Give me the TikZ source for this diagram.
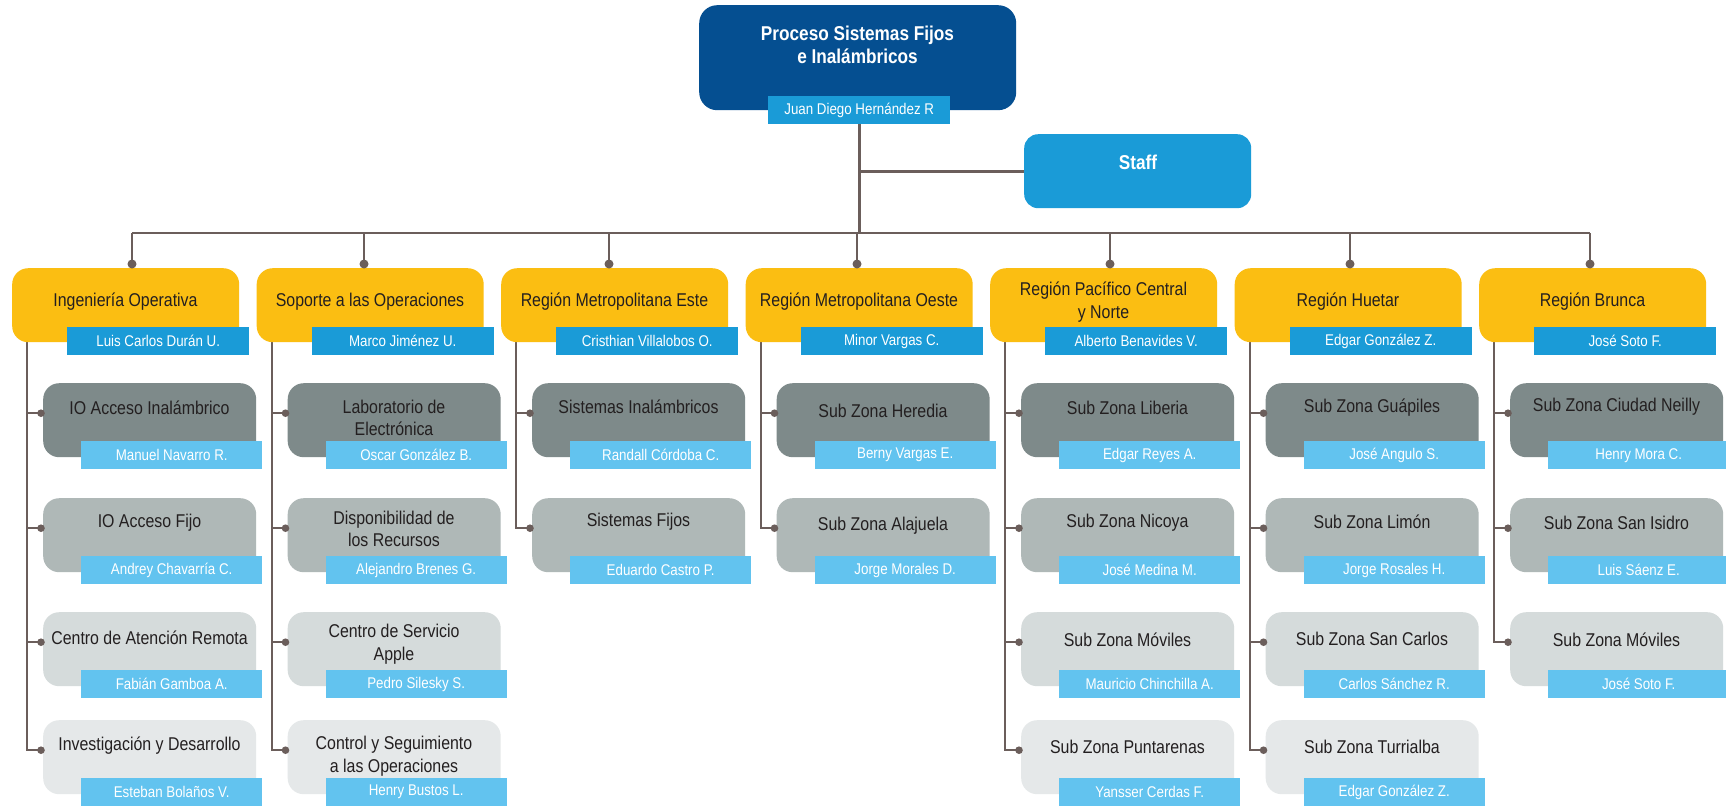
\documentclass[tikz,border=0pt]{standalone}
\usepackage{fontspec}
\setmainfont{Liberation Sans}[FakeStretch=0.86]
\usetikzlibrary{backgrounds,calc}
\pgfdeclarelayer{back}
\pgfsetlayers{back,background,main}
\definecolor{topblue}{HTML}{054F91}
\definecolor{midblue}{HTML}{1A9BD7}
\definecolor{lightblue}{HTML}{62C3EF}
\definecolor{yel}{HTML}{FBBE12}
\definecolor{g1}{HTML}{7E8A8A}
\definecolor{g2}{HTML}{AFB8B7}
\definecolor{g3}{HTML}{D5DBDB}
\definecolor{g4}{HTML}{E5E8E9}
\definecolor{linec}{HTML}{6B5E5B}
\definecolor{txt}{HTML}{231F20}
\newcommand\region[4]{%
 \pgfmathsetmacro\L{12+244.5*#1}
 \node[regbox] (r#1) at (\L,268) {};
 \node[title] (r#1t) at (\L+113.5,302) {#2};
 \node[regstrip] (r#1n) at (\L+55,327) {#3};
 \coordinate (d#1) at (#4,233);
 \draw[main] (d#1) -- ($(d#1 |- r#1.north)+(0,-4)$);
 \fill[linec] ($(d#1 |- r#1.north)+(0,-4)$) circle (4.5pt);
}
\newcommand\sub[5]{%
 \pgfmathsetmacro\L{12+244.5*#1}
 \pgfmathsetmacro\T{#2==1 ? 383 : (#2==2 ? 498 : (#2==3 ? 612 : 720))}
 \node[subbox, fill=g#2] (s#1-#2) at (\L+31,\T) {};
 \node[title] (s#1-#2t) at (\L+137.5,\T+#5) {#3};
 \node[substrip] (s#1-#2n) at (\L+69,\T+58) {#4};
 \begin{pgfonlayer}{background}
 \draw[tree] ([xshift=15pt]r#1.south west) |- ([yshift=7pt]s#1-#2.west);
 \end{pgfonlayer}
 \fill[linec] ([xshift=-2pt,yshift=7pt]s#1-#2.west) circle (3.8pt);
}
\begin{document}
\begin{tikzpicture}[x=1pt,y=-1pt,
 box/.style={draw=none, rounded corners=16pt, minimum width=227pt, minimum height=74pt, inner sep=0pt, anchor=north west},
 regbox/.style={box, fill=yel},
 subbox/.style={box, minimum width=213pt},
 strip/.style={anchor=north west, inner sep=0pt, minimum height=28pt, text=white, font=\fontsize{15.5}{18}\selectfont},
 regstrip/.style={strip, fill=midblue, minimum width=182pt},
 substrip/.style={strip, fill=lightblue, minimum width=181pt},
 title/.style={text=txt, align=center, font=\fontsize{18.5}{22.5}\selectfont, inner sep=0pt},
 main/.style={draw=linec, line width=2.6pt},
 tree/.style={draw=linec, line width=2pt}]
\useasboundingbox (0,0) rectangle (1726,809);
\begin{pgfonlayer}{back}
\fill[white] (0,0) rectangle (1726,809);
\end{pgfonlayer}

% top
\node[box, fill=topblue, minimum width=317pt, minimum height=105pt, rounded corners=18pt] (top) at (699,5) {};
\node[text=white, font=\bfseries\fontsize{20}{23}\selectfont, align=center, inner sep=0pt] (topt) at (857.5,44.5) {Proceso Sistemas Fijos\\e Inalámbricos};
\node[strip, fill=midblue, minimum width=182pt] (jd) at (768,96) {Juan Diego Hernández R};
\node[box, fill=midblue, minimum width=227pt, minimum height=74pt, rounded corners=14pt] (staff) at (1024,134) {};
\node[text=white, font=\bfseries\fontsize{20}{23}\selectfont, inner sep=0pt] (stafft) at (1138,162) {Staff};

% regions
\region{0}{Ingeniería Operativa}{Luis Carlos Durán U.}{132}
\region{1}{Soporte a las Operaciones}{Marco Jiménez U.}{364}
\region{2}{Región Metropolitana Este}{Cristhian Villalobos O.}{609}
\region{3}{Región Metropolitana Oeste}{Minor Vargas C.}{857}
\region{4}{Región Pacífico Central\\y Norte}{Alberto Benavides V.}{1110}
\region{5}{Región Huetar}{Edgar González Z.}{1350}
\region{6}{Región Brunca}{José Soto F.}{1590}

\begin{pgfonlayer}{background}
\draw[main] (d0) -- (d6);
\draw[main] (jd.south) -- (jd.south |- d3);
\draw[main] (staff.west) -- (staff.west -| jd.south);
\end{pgfonlayer}

% column 0
\sub{0}{1}{IO Acceso Inalámbrico}{Manuel Navarro R.}{25}
\sub{0}{2}{IO Acceso Fijo}{Andrey Chavarría C.}{25}
\sub{0}{3}{Centro de Atención Remota}{Fabián Gamboa A.}{26}
\sub{0}{4}{Investigación y Desarrollo}{Esteban Bolaños V.}{26}
% column 1
\sub{1}{1}{Laboratorio de\\Electrónica}{Oscar González B.}{35}
\sub{1}{2}{Disponibilidad de\\los Recursos}{Alejandro Brenes G.}{31}
\sub{1}{3}{Centro de Servicio\\Apple}{Pedro Silesky S.}{32}
\sub{1}{4}{Control y Seguimiento\\a las Operaciones}{Henry Bustos L.}{36}
% column 2
\sub{2}{1}{Sistemas Inalámbricos}{Randall Córdoba C.}{24}
\sub{2}{2}{Sistemas Fijos}{Eduardo Castro P.}{24}
% column 3
\sub{3}{1}{Sub Zona Heredia}{Berny Vargas E.}{28}
\sub{3}{2}{Sub Zona Alajuela}{Jorge Morales D.}{28}
% column 4
\sub{4}{1}{Sub Zona Liberia}{Edgar Reyes A.}{25}
\sub{4}{2}{Sub Zona Nicoya}{José Medina M.}{25}
\sub{4}{3}{Sub Zona Móviles}{Mauricio Chinchilla A.}{28}
\sub{4}{4}{Sub Zona Puntarenas}{Yansser Cerdas F.}{27}
% column 5
\sub{5}{1}{Sub Zona Guápiles}{José Angulo S.}{25}
\sub{5}{2}{Sub Zona Limón}{Jorge Rosales H.}{24}
\sub{5}{3}{Sub Zona San Carlos}{Carlos Sánchez R.}{27}
\sub{5}{4}{Sub Zona Turrialba}{Edgar González Z.}{27}
% column 6
\sub{6}{1}{Sub Zona Ciudad Neilly}{Henry Mora C.}{24}
\sub{6}{2}{Sub Zona San Isidro}{Luis Sáenz E.}{25}
\sub{6}{3}{Sub Zona Móviles}{José Soto F.}{28}
\end{tikzpicture}
\end{document}
